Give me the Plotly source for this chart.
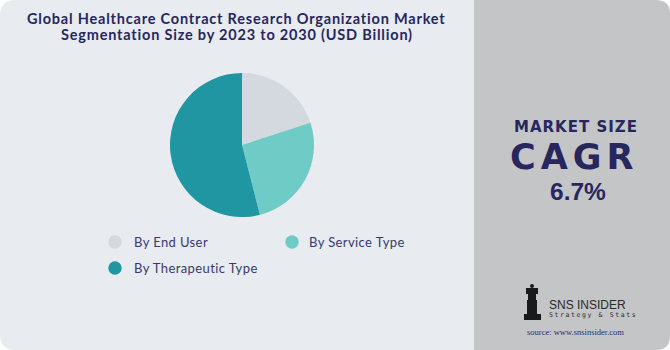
import plotly.graph_objects as go

W, H = 670, 350

# Data
categories = ["By End User", "By Service Type", "By Therapeutic Type"]
values = [20, 26, 54]
colors = ["#d3d9df", "#6ecbc5", "#1f96a2"]
title_lines = ["Global Healthcare Contract Research Organization Market",
               "Segmentation Size by 2023 to 2030 (USD Billion)"]
cagr_label = "MARKET SIZE"
cagr_title = "CAGR"
cagr_value = "6.7%"

NAVY = "#27275e"


def px(x):
    return x / W


def py(y):
    return 1 - y / H


fig = go.Figure()

fig.add_trace(go.Pie(
    labels=categories, values=values,
    marker=dict(colors=colors, line=dict(width=0)),
    sort=False, direction="clockwise", rotation=0,
    textinfo="none", hoverinfo="label+value",
    domain=dict(x=[px(170), px(314)], y=[py(217), py(73)]),
    showlegend=False,
))


def rounded_rect(x0, y0, x1, y1, rtl, rtr, rbr, rbl):
    def P(x, y):
        return f"{px(x):.5f},{py(y):.5f}"
    d = f"M {P(x0 + rtl, y0)} L {P(x1 - rtr, y0)} Q {P(x1, y0)} {P(x1, y0 + rtr)} "
    d += f"L {P(x1, y1 - rbr)} Q {P(x1, y1)} {P(x1 - rbr, y1)} "
    d += f"L {P(x0 + rbl, y1)} Q {P(x0, y1)} {P(x0, y1 - rbl)} "
    d += f"L {P(x0, y0 + rtl)} Q {P(x0, y0)} {P(x0 + rtl, y0)} Z"
    return d


shapes = []
shapes.append(dict(type="path", xref="paper", yref="paper",
                   path=rounded_rect(0, 0, 480, 350, 16, 0, 0, 16),
                   fillcolor="#e8ebf0", line=dict(width=0), layer="below"))
shapes.append(dict(type="path", xref="paper", yref="paper",
                   path=rounded_rect(474, 0, 670, 350, 0, 14, 14, 0),
                   fillcolor="#c4c5c7", line=dict(width=0), layer="below"))

annotations = []


def ann(x, y, text, size, family, color, xanchor="center", spacing=None):
    if spacing is not None:
        text = f"<span style='letter-spacing:{spacing}px'>{text}</span>"
    annotations.append(dict(x=px(x), y=py(y), xref="paper", yref="paper",
                            text=text, showarrow=False, xanchor=xanchor, yanchor="middle",
                            borderpad=0,
                            font=dict(family=family, size=size, color=color)))


# legend markers
leg_pos = [(115, 242, 133), (292, 242, 308), (115, 268, 133)]
for (cx, cy, tx), lab, col in zip(leg_pos, categories, colors):
    r = 6.7
    shapes.append(dict(type="circle", xref="paper", yref="paper",
                       x0=px(cx - r), x1=px(cx + r), y0=py(cy + r), y1=py(cy - r),
                       fillcolor=col, line=dict(width=0)))
    ann(tx, cy, lab, 13, "Lato", "#3a3a6a", xanchor="left", spacing=0.4)

# title
for i, line in enumerate(title_lines):
    ann(236.5, 19 + i * 16, f"<b>{line}</b>", 14.5, "Lato", NAVY, spacing=0.8)

# right panel texts
ann(576, 127.3, f"<b>{cagr_label}</b>", 15, "DejaVu Sans", NAVY, spacing=1)
ann(573.5, 156.9, f"<b>{cagr_title}</b>", 35, "DejaVu Sans", NAVY, spacing=5)
ann(578, 191.5, f"<b>{cagr_value}</b>", 24.5, "Liberation Sans", NAVY)

# logo: simple rook icon
ink = "#1a1a1a"
rook = [
    (526, 288, 538, 294),  # crown
    (528, 294, 536, 300),  # neck
    (527, 300, 537, 314),  # body
    (524, 314, 541, 320),  # base
]
for x0, y0, x1, y1 in rook:
    shapes.append(dict(type="rect", xref="paper", yref="paper",
                       x0=px(x0), x1=px(x1), y0=py(y1), y1=py(y0),
                       fillcolor=ink, line=dict(width=0)))
shapes.append(dict(type="circle", xref="paper", yref="paper",
                   x0=px(530), x1=px(534), y0=py(288), y1=py(284),
                   fillcolor=ink, line=dict(width=0)))
ann(548, 305, "SNS INSIDER", 12, "Liberation Sans", "#2a2a2a", xanchor="left")
ann(548, 315, "Strategy &amp; Stats", 6.5, "DejaVu Sans Mono", "#2a2a2a", xanchor="left",
    spacing=1.6)
ann(575, 332, "source: www.snsinsider.com", 8.5, "Liberation Serif", "#2e2e6a")

fig.update_layout(
    width=W, height=H,
    margin=dict(l=0, r=0, t=0, b=0),
    paper_bgcolor="white", plot_bgcolor="white",
    shapes=shapes, annotations=annotations,
    showlegend=False,
)

fig.write_html("out.html")
